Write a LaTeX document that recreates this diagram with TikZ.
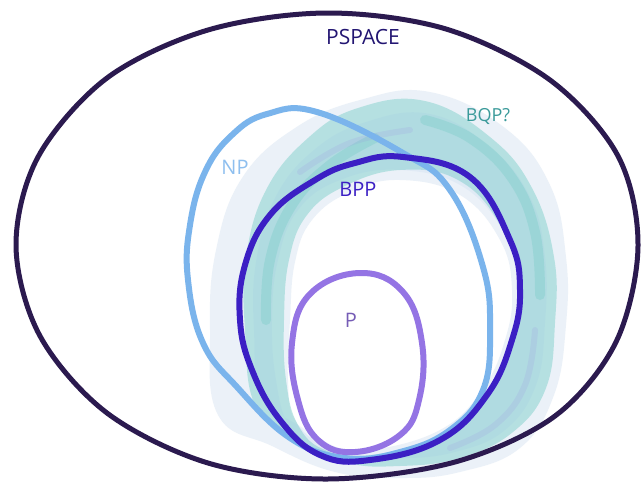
\documentclass[tikz,border=0pt]{standalone}
\usepackage{fontspec}
\setmainfont{Open Sans}
\begin{document}
\begin{tikzpicture}[x=1pt,y=-1pt,
  outline/.style={line width=#1, line join=round, line cap=round},
  streak/.style={line width=#1, line cap=round, opacity=0.3},
  lbl/.style={font=\fontsize{20}{20}\selectfont, inner sep=0pt}]
\definecolor{pspacec}{HTML}{2B1A4F}
\definecolor{npc}{HTML}{7AB4EC}
\definecolor{bppc}{HTML}{3B1FC4}
\definecolor{pc}{HTML}{9474E4}
\definecolor{bqpc}{HTML}{6CCAC2}
\definecolor{bqptext}{HTML}{3A9A9A}
\definecolor{fuzz}{HTML}{C6D8EC}
\useasboundingbox (0,0) rectangle (644,485);
\fill[white] (0,0) rectangle (644,485);
% BQP fuzzy band
\fill[fuzz, opacity=0.35, even odd rule]
  plot[smooth cycle, tension=0.7] coordinates {(218,415) (210,330) (216,250) (242,178) (295,128) (360,100) (430,92) (505,128) (550,185) (566,257) (566,325) (554,395) (520,448) (460,472) (400,478) (335,472) (272,446)}
  plot[smooth cycle, tension=0.7] coordinates {(400,180) (460,195) (500,240) (512,290) (505,340) (482,390) (440,430) (370,450) (325,445) (295,420) (288,380) (290,320) (295,262) (312,220) (350,192)};
\fill[bqpc, opacity=0.42, even odd rule]
  plot[smooth cycle, tension=0.7] coordinates {(255,405) (245,330) (246,258) (266,190) (308,138) (358,108) (425,101) (490,137) (532,188) (554,257) (555,323) (546,388) (513,432) (460,458) (400,466) (345,462) (295,436)}
  plot[smooth cycle, tension=0.7] coordinates {(400,170) (458,180) (500,225) (520,290) (513,340) (488,392) (440,436) (370,455) (325,450) (298,425) (286,380) (284,320) (289,260) (307,215) (345,186)};
\fill[bqpc!70!blue!60, opacity=0.12, even odd rule]
  plot[smooth cycle, tension=0.7] coordinates {(262,395) (254,330) (256,262) (275,198) (314,150) (366,122) (430,114) (490,147) (530,197) (545,257) (545,323) (536,385) (505,430) (455,452) (400,458) (350,452) (303,428)}
  plot[smooth cycle, tension=0.7] coordinates {(400,170) (465,188) (508,240) (520,290) (513,340) (490,395) (442,440) (370,460) (322,455) (290,428) (276,380) (272,320) (278,260) (298,210) (340,180)};
% soft texture streaks in the band
\draw[bqpc, streak=10pt] plot[smooth, tension=0.7] coordinates {(266,320) (270,260) (292,205) (330,165) (375,138)};
\draw[bqpc, streak=10pt] plot[smooth, tension=0.7] coordinates {(425,120) (470,138) (512,178) (535,232) (540,295)};
\draw[pc, streak=6pt, opacity=0.12] plot[smooth, tension=0.7] coordinates {(300,172) (350,143) (410,130)};
\draw[pc, streak=6pt, opacity=0.12] plot[smooth, tension=0.7] coordinates {(535,330) (525,385) (495,425) (450,448)};
% PSPACE
\draw[pspacec, outline=5pt] plot[smooth cycle, tension=0.55] coordinates {(327,13) (446,29) (550,80) (618,156) (638,246) (616,342) (555,416) (455,462) (327,479) (208,463) (107,413) (40,336) (16,246) (38,157) (107,78) (208,30)};
% NP
\draw[npc, outline=6pt] plot[smooth cycle, tension=0.7] coordinates {(317,112) (403,153) (450,190) (483,267) (490,330) (483,390) (450,430) (400,452) (345,458) (290,438) (237,387) (203,343) (188,280) (190,225) (205,172) (232,135) (267,114)};
% BPP
\draw[bppc, outline=6pt] plot[smooth cycle, tension=0.7] coordinates {(403,157) (470,177) (510,240) (520,290) (512,340) (487,395) (440,440) (370,460) (320,455) (280,420) (252,370) (240,320) (245,265) (270,215) (315,180) (355,163)};
% P
\draw[pc, outline=6pt] plot[smooth cycle, tension=0.7] coordinates {(360,273) (403,292) (422,343) (419,400) (400,435) (355,452) (318,440) (298,400) (292,343) (310,294)};
% labels
\node[lbl, text=pspacec!80!blue, font=\fontsize{21}{21}\selectfont] (pspace) at (363,37) {PSPACE};
\node[lbl, text=npc!85!white] (np) at (235,167) {NP};
\node[lbl, text=bppc] (bpp) at (358,189) {BPP};
\node[lbl, text=bqptext, font=\fontsize{18}{18}\selectfont] (bqp) at (488,116) {BQP?};
\node[lbl, text=pc!80!black] (p) at (351,320) {P};
\end{tikzpicture}
\end{document}
